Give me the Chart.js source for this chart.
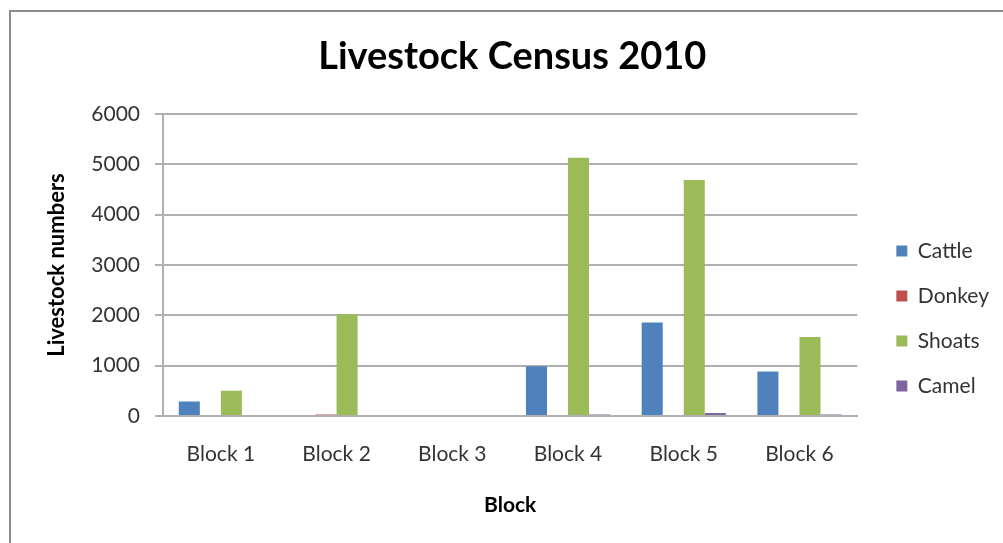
<!DOCTYPE html>
<html><head><meta charset="utf-8">
<script src="https://cdn.jsdelivr.net/npm/chart.js@4.4.1/dist/chart.umd.min.js"></script>
<style>
html,body{margin:0;padding:0;background:#fff;overflow:hidden}
#wrap{position:relative;width:1003px;height:543px;overflow:hidden}
#frame{position:absolute;left:9px;top:10px;width:1100px;height:700px;border:2px solid #8c8c8c;box-sizing:border-box;pointer-events:none}
canvas{position:absolute;left:0;top:0}
</style></head>
<body><div id="wrap"><canvas id="c" width="1003" height="543"></canvas><div id="frame"></div></div>
<script>
const categories = ['Block 1', 'Block 2', 'Block 3', 'Block 4', 'Block 5', 'Block 6'];
const cattle = [290, 0, 0, 990, 1860, 885];
const donkey = [0, 30, 0, 0, 0, 0];
const shoats = [500, 2020, 0, 5130, 4690, 1570];
const camel = [0, 0, 0, 30, 60, 30];
const yMin = 0, yMax = 6000, yStep = 1000;

Chart.defaults.font.family = 'Lato, "Open Sans", sans-serif';

new Chart(document.getElementById('c'), {
  type: 'bar',
  data: {
    labels: categories,
    datasets: [
      {label: 'Cattle', data: cattle, backgroundColor: '#4F81BD'},
      {label: 'Donkey', data: donkey, backgroundColor: '#C0504D'},
      {label: 'Shoats', data: shoats, backgroundColor: '#9BBB59'},
      {label: 'Camel', data: camel, backgroundColor: '#8064A2'}
    ]
  },
  options: {
    responsive: false, animation: false, devicePixelRatio: 1,
    layout: {padding: {left: 25.5, right: 4, top: 0, bottom: 0}},
    datasets: {bar: {categoryPercentage: 0.7273, barPercentage: 1}},
    plugins: {
      title: {display: true, text: 'Livestock Census 2010', color: '#000',
        font: {size: 38, weight: 'bold', lineHeight: 1.2}, padding: {top: 34.2, bottom: 34.2}},
      legend: {position: 'right', align: 'center',
        title: {display: true, text: ' ', font: {size: 10, lineHeight: 1.2}, padding: {top: 82, bottom: 0}},
        labels: {boxWidth: 11, boxHeight: 11, padding: 24, color: '#333', font: {size: 21}}},
      tooltip: {enabled: false}
    },
    scales: {
      x: {
        grid: {display: false, drawTicks: false},
        border: {display: true, color: '#b0b0b0', width: 2},
        ticks: {padding: 26, color: '#333', font: {size: 21}},
        title: {display: true, text: 'Block', color: '#000', font: {size: 21, weight: 'bold'}, padding: {top: 0, bottom: 25}},
        afterFit(s) { s.height = 127; }
      },
      y: {
        min: yMin, max: yMax,
        ticks: {stepSize: yStep, padding: 15, color: '#333', font: {size: 21}, callback: v => String(v)},
        grid: {color: '#b0b0b0', lineWidth: 2, tickLength: 8},
        border: {color: '#b0b0b0', width: 2},
        title: {display: true, text: 'Livestock numbers', color: '#000', font: {size: 22, weight: 'bold'}, padding: {top: 18, bottom: 0}},
        afterFit(s) { s.width = 137.5; }
      },
      r: {
        position: 'right', display: true,
        grid: {display: false, drawTicks: false}, border: {display: false}, ticks: {display: false},
        afterFit(s) { s.width = 15; }
      }
    }
  }
});
</script>
</body></html>
